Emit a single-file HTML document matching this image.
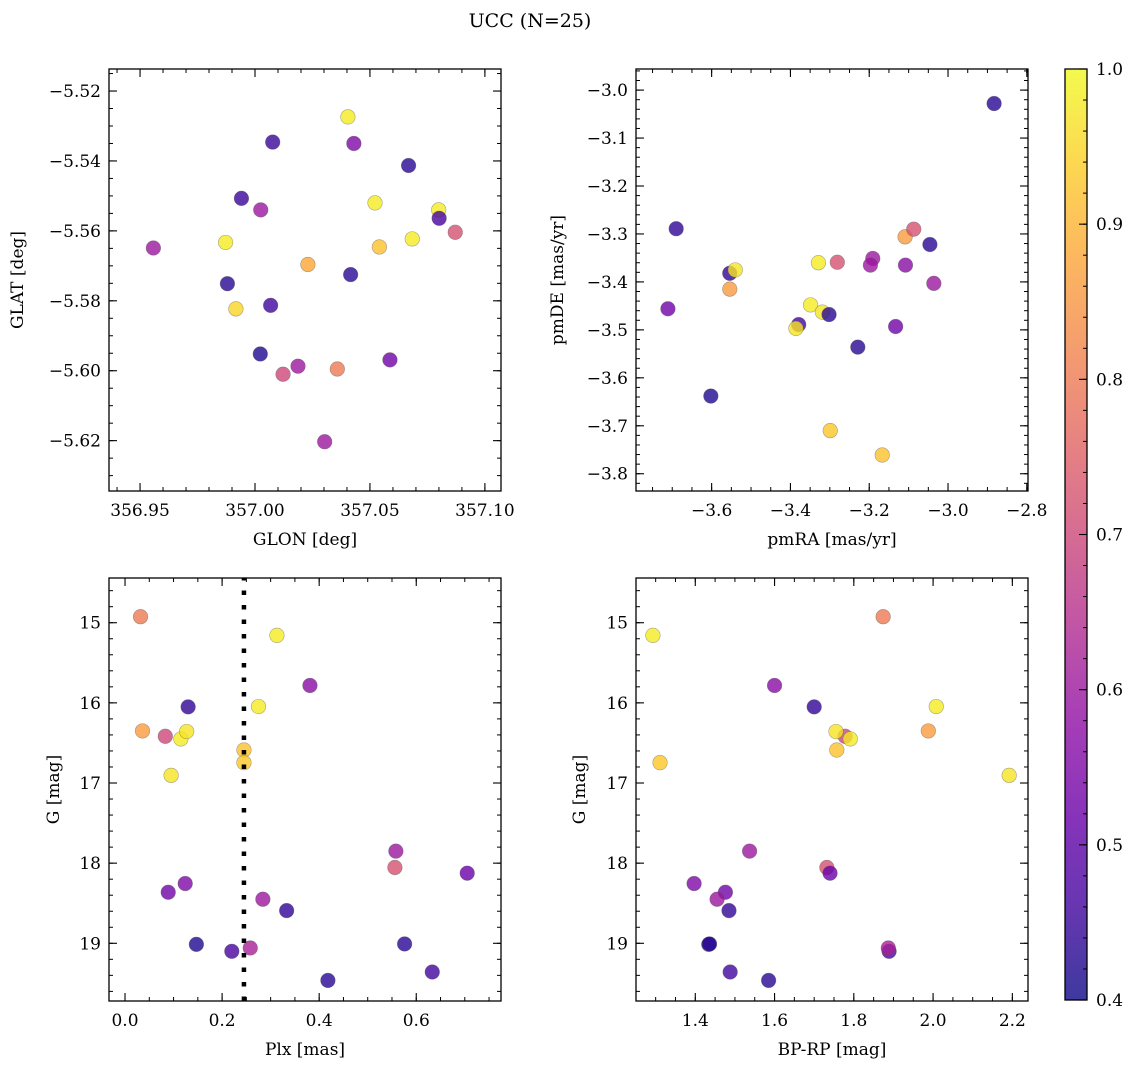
<!DOCTYPE html>
<html><head><meta charset="utf-8">
<style>
html,body{margin:0;padding:0;background:#fff;}
svg{display:block;font-family:"DejaVu Serif","Liberation Serif",serif;}
</style></head>
<body>
<svg id="fig" width="1136" height="1068" viewBox="0 0 1136 1068" xmlns="http://www.w3.org/2000/svg">
<text x="530" y="27" font-size="19" text-anchor="middle">UCC (N=25)</text>
</svg>
<script>
// ---- data ----
// Panel 1: GLON / GLAT
const glon = [356.9558,356.9872,356.9880,356.9917,356.9941,357.0025,357.0023,357.0068,357.0077,357.0122,357.0187,357.0230,357.0303,357.0358,357.0404,357.0416,357.0430,357.0522,357.0541,357.0587,357.0668,357.0684,357.0799,357.0801,357.0871];
const glat = [-5.5649,-5.5633,-5.5751,-5.5823,-5.5507,-5.5540,-5.5952,-5.5813,-5.5346,-5.6010,-5.5987,-5.5696,-5.6203,-5.5995,-5.5274,-5.5725,-5.5350,-5.5520,-5.5646,-5.5969,-5.5413,-5.5623,-5.5540,-5.5564,-5.5604];
const probPos = [0.60,0.98,0.43,0.95,0.45,0.60,0.42,0.46,0.45,0.70,0.60,0.88,0.60,0.80,0.98,0.43,0.55,0.98,0.92,0.53,0.43,0.98,0.98,0.47,0.72];
// Panel 2: proper motions
const pmra = [-3.711,-3.690,-3.602,-3.554,-3.540,-3.554,-3.379,-3.386,-3.349,-3.329,-3.319,-3.302,-3.281,-3.299,-3.229,-3.191,-3.197,-3.167,-3.133,-3.108,-3.109,-3.087,-3.046,-3.036,-2.883];
const pmde = [-3.456,-3.289,-3.638,-3.382,-3.375,-3.415,-3.489,-3.497,-3.448,-3.360,-3.463,-3.468,-3.359,-3.710,-3.536,-3.351,-3.365,-3.761,-3.493,-3.365,-3.306,-3.290,-3.322,-3.403,-3.028];
const probPm = [0.53,0.44,0.42,0.44,0.97,0.86,0.46,0.97,0.98,0.98,0.97,0.43,0.72,0.93,0.43,0.60,0.60,0.92,0.53,0.57,0.86,0.72,0.43,0.60,0.43];
// Panels 3 & 4: parallax, G magnitude, colour
const plx = [0.032,0.036,0.083,0.115,0.127,0.095,0.130,0.089,0.124,0.147,0.220,0.258,0.245,0.245,0.275,0.313,0.284,0.333,0.381,0.418,0.558,0.556,0.576,0.633,0.705];
const gmag = [14.925,16.35,16.417,16.45,16.358,16.904,16.05,18.363,18.254,19.013,19.10,19.058,16.588,16.746,16.046,15.158,18.45,18.592,15.783,19.463,17.85,18.054,19.008,19.358,18.125];
const bprp = [1.874,1.988,1.778,1.791,1.755,2.192,1.700,1.476,1.397,1.434,1.889,1.887,1.757,1.311,2.008,1.293,1.455,1.485,1.600,1.585,1.537,1.732,1.436,1.488,1.740];
const probPhot = [0.80,0.86,0.70,0.98,0.97,0.97,0.44,0.53,0.55,0.42,0.47,0.62,0.92,0.93,0.98,0.98,0.60,0.44,0.57,0.43,0.60,0.72,0.43,0.46,0.52];
const plxMedian = [0.245];
// tick labels
const tlXTicks = [356.95,357.00,357.05,357.10];
const tlYTicks = [-5.52,-5.54,-5.56,-5.58,-5.60,-5.62];
const trXTicks = [-3.6,-3.4,-3.2,-3.0,-2.8];
const trYTicks = [-3.0,-3.1,-3.2,-3.3,-3.4,-3.5,-3.6,-3.7,-3.8];
const blXTicks = [0.0,0.2,0.4,0.6];
const gTicks = [15,16,17,18,19];
const brXTicks = [1.4,1.6,1.8,2.0,2.2];
const cbTicks = [0.4,0.5,0.6,0.7,0.8,0.9,1.0];

const NS='http://www.w3.org/2000/svg';
const svg=document.getElementById('fig');
function mk(tag,attrs,parent){const e=document.createElementNS(NS,tag);for(const k in attrs)e.setAttribute(k,attrs[k]);(parent||svg).appendChild(e);return e;}

const plasma=[[13,8,135],[65,4,157],[106,0,168],[143,13,164],[177,42,144],[204,71,120],[225,100,98],[242,132,75],[252,166,54],[252,206,37],[240,249,33]];
function cmap(p){let t=(p-0.4)/0.6;t=Math.max(0,Math.min(1,t));const f=t*10,i=Math.min(9,Math.floor(f)),r=f-i;const a=plasma[i],b=plasma[i+1];return 'rgb('+[0,1,2].map(k=>Math.round(a[k]+(b[k]-a[k])*r)).join(',')+')';}
function fmt(v,d){return (v<0?'\u2212':'')+Math.abs(v).toFixed(d);}
const FS=17;

function panel(cfg){
  const {x0,y0,w,h,xmin,xmax,ymin,ymax,yinv}=cfg;
  const sx=v=>x0+(v-xmin)/(xmax-xmin)*w;
  const sy=v=>yinv? y0+(v-ymin)/(ymax-ymin)*h : y0+h-(v-ymin)/(ymax-ymin)*h;
  const g=mk('g',{});
  
  
  for(let v=Math.ceil(xmin/cfg.xminor-1e-6)*cfg.xminor; v<=xmax+1e-9; v+=cfg.xminor){const X=sx(v);if(X<x0||X>x0+w)continue;
    mk('line',{x1:X,x2:X,y1:y0+h,y2:y0+h-4,stroke:'#000','stroke-width':1},g);mk('line',{x1:X,x2:X,y1:y0,y2:y0+4,stroke:'#000','stroke-width':1},g);}
  const ya=Math.min(ymin,ymax),yb=Math.max(ymin,ymax);
  for(let v=Math.ceil(ya/cfg.yminor-1e-6)*cfg.yminor; v<=yb+1e-9; v+=cfg.yminor){const Y=sy(v);if(Y<y0||Y>y0+h)continue;
    mk('line',{x1:x0,x2:x0+4,y1:Y,y2:Y,stroke:'#000','stroke-width':1},g);mk('line',{x1:x0+w,x2:x0+w-4,y1:Y,y2:Y,stroke:'#000','stroke-width':1},g);}
  cfg.xticks.forEach(v=>{const X=sx(v);
    mk('line',{x1:X,x2:X,y1:y0+h,y2:y0+h-8,stroke:'#000','stroke-width':1.1},g);mk('line',{x1:X,x2:X,y1:y0,y2:y0+8,stroke:'#000','stroke-width':1.1},g);
    const t=mk('text',{x:X,y:y0+h+25,'font-size':FS,'text-anchor':'middle'},g);t.textContent=fmt(v,cfg.xd);
    
    });
  cfg.yticks.forEach(v=>{const Y=sy(v);
    mk('line',{x1:x0,x2:x0+8,y1:Y,y2:Y,stroke:'#000','stroke-width':1.1},g);mk('line',{x1:x0+w,x2:x0+w-8,y1:Y,y2:Y,stroke:'#000','stroke-width':1.1},g);
    const t=mk('text',{x:x0-8,y:Y+6,'font-size':FS,'text-anchor':'end'},g);t.textContent=fmt(v,cfg.yd);
    
    });
  cfg.xs.forEach((xv,i)=>{
    const c=mk('circle',{cx:sx(xv),cy:sy(cfg.ys[i]),r:7.3,fill:cmap(cfg.c[i]),'fill-opacity':0.8,stroke:'#555','stroke-opacity':0.5,'stroke-width':0.6},g);
    
    });
  if(cfg.vline){cfg.vline.forEach(v=>{const l=mk('line',{x1:sx(v),x2:sx(v),y1:y0+h,y2:y0,stroke:'#000','stroke-width':4.5,'stroke-dasharray':'4.5 10'},g);
    
    });}
  const fr=mk('rect',{x:x0,y:y0,width:w,height:h,fill:'none',stroke:'#000','stroke-width':1.3},g);
  
  
  const xl=mk('text',{x:x0+w/2,y:y0+h+54,'font-size':FS,'text-anchor':'middle'},g);xl.textContent=cfg.xlabel;
  
  
  const yl=mk('text',{x:0,y:0,'font-size':FS,'text-anchor':'middle',transform:`translate(${cfg.ylx},${y0+h/2}) rotate(-90)`},g);yl.textContent=cfg.ylabel;
  
  
}

panel({name:'panel-glon-glat',x0:109,y0:69,w:392,h:422,xmin:356.9365,xmax:357.107,ymin:-5.6344,ymax:-5.5137,xticks:tlXTicks,yticks:tlYTicks,xd:2,yd:2,xminor:0.01,yminor:0.005,xs:glon,ys:glat,c:probPos,xlabel:'GLON [deg]',ylabel:'GLAT [deg]',ylx:23});
panel({name:'panel-proper-motion',x0:636,y0:69,w:392,h:422,xmin:-3.792,xmax:-2.797,ymin:-3.836,ymax:-2.956,xticks:trXTicks,yticks:trYTicks,xd:1,yd:1,xminor:0.05,yminor:0.02,xs:pmra,ys:pmde,c:probPm,xlabel:'pmRA [mas/yr]',ylabel:'pmDE [mas/yr]',ylx:563});
panel({name:'panel-plx-g',x0:109,y0:578,w:392,h:423,xmin:-0.033,xmax:0.7746,ymin:14.442,ymax:19.72,yinv:true,xticks:blXTicks,yticks:gTicks,xd:1,yd:0,xminor:0.05,yminor:0.2,xs:plx,ys:gmag,c:probPhot,vline:plxMedian,xlabel:'Plx [mas]',ylabel:'G [mag]',ylx:59});
panel({name:'panel-cmd',x0:636,y0:578,w:392,h:423,xmin:1.2504,xmax:2.2395,ymin:14.442,ymax:19.72,yinv:true,xticks:brXTicks,yticks:gTicks,xd:1,yd:0,xminor:0.05,yminor:0.2,xs:bprp,ys:gmag,c:probPhot,xlabel:'BP-RP [mag]',ylabel:'G [mag]',ylx:585});

(function(){
  const x0=1065,y0=69,w=22,h=931,vmin=0.4,vmax=1.0;
  const g=mk('g',{});
  
  
  const defs=mk('defs',{},g);
  const lg=mk('linearGradient',{id:'cbg',x1:0,y1:1,x2:0,y2:0},defs);
  for(let i=0;i<=20;i++){const p=vmin+(vmax-vmin)*i/20;mk('stop',{offset:(i/20),'stop-color':cmap(p),'stop-opacity':0.8},lg);}
  mk('rect',{x:x0,y:y0,width:w,height:h,fill:'url(#cbg)'},g);
  const sy=v=>y0+h-(v-vmin)/(vmax-vmin)*h;
  for(let v=vmin;v<=vmax+1e-9;v+=0.02){const Y=sy(v);mk('line',{x1:x0+w,x2:x0+w-4,y1:Y,y2:Y,stroke:'#000','stroke-width':1},g);}
  cbTicks.forEach(v=>{const Y=sy(v);mk('line',{x1:x0+w,x2:x0+w-8,y1:Y,y2:Y,stroke:'#000','stroke-width':1.1},g);
    const t=mk('text',{x:x0+w+9,y:Y+6,'font-size':FS},g);t.textContent=v.toFixed(1);
    
    });
  mk('rect',{x:x0,y:y0,width:w,height:h,fill:'none',stroke:'#000','stroke-width':1.3},g);
})();
</script>
</body></html>
